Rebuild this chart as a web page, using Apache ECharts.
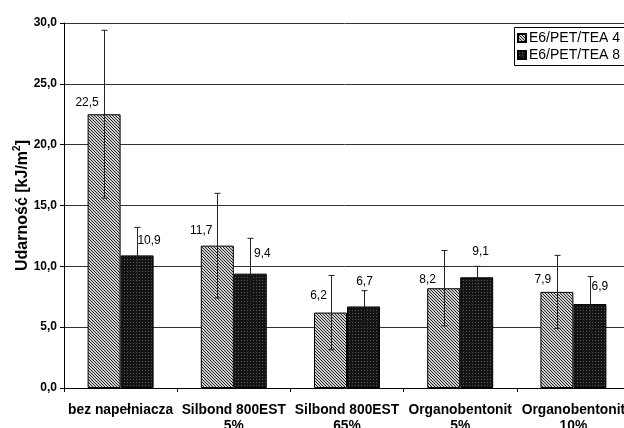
<!DOCTYPE html>
<html>
<head>
<meta charset="utf-8">
<script src="https://cdn.jsdelivr.net/npm/echarts@6/dist/echarts.min.js"></script>
<style>
html,body{margin:0;padding:0;background:#fff;}
#c{width:624px;height:428px;}
</style>
</head>
<body>
<div id="c"></div>
<script>
// ---- data ----
const categories = ['bez napełniacza', 'Silbond 800EST\n5%', 'Silbond 800EST\n65%', 'Organobentonit\n5%', 'Organobentonit\n10%'];
const seriesNames = ['E6/PET/TEA 4', 'E6/PET/TEA 8'];
const values4 = [22.5, 11.7, 6.2, 8.2, 7.9];
const values8 = [10.9, 9.4, 6.7, 9.1, 6.9];
const errors4 = [6.9, 4.3, 3.05, 3.1, 3.0];
const errors8 = [2.3, 2.9, 1.3, 0.9, 2.26];
const yTicks = { min: 0, max: 30, interval: 5 };

// ---- styles ----
const labelOffsets4 = [[-17, -6], [-16, -9], [-12, -11], [-16, -3], [-14, -6]];
const labelOffsets8 = [[12, -9], [12, -14], [1, -19], [4, -20], [10, -11]];
const FONT = '"Liberation Sans", Arial, sans-serif';
const BAR_W = 33;

function makePattern(bg, fg, size, pts) {
  const cv = document.createElement('canvas');
  cv.width = size; cv.height = size;
  const ctx = cv.getContext('2d');
  ctx.fillStyle = bg; ctx.fillRect(0, 0, size, size);
  ctx.fillStyle = fg;
  pts.forEach(p => ctx.fillRect(p[0], p[1], 1, 1));
  return { image: cv, repeat: 'repeat' };
}
const pat1 = makePattern('#d0d0d0', '#262626', 3, [[0,0],[1,1],[2,2]]);
const pat2 = makePattern('#141414', '#5a5a5a', 3, [[1,1]]);

const fmt = v => v.toFixed(1).replace('.', ',');

function barData(vals, offs) {
  return vals.map((v, i) => ({ value: v, label: { offset: offs[i] } }));
}

function errSeries(vals, errs, shift) {
  return {
    type: 'custom',
    z: 5,
    silent: true,
    data: vals.map((v, i) => [i, v, errs[i]]),
    renderItem: function (params, api) {
      const i = api.value(0), v = api.value(1), e = api.value(2);
      const top = api.coord([i, v + e]);
      const bot = api.coord([i, v - e]);
      const x = Math.round(top[0] + shift) + 0.5;
      const cap = 3;
      const st = { stroke: '#222', lineWidth: 1 };
      return {
        type: 'group',
        children: [
          { type: 'line', shape: { x1: x, y1: top[1], x2: x, y2: bot[1] }, style: st },
          { type: 'line', shape: { x1: x - cap, y1: top[1], x2: x + cap, y2: top[1] }, style: st },
          { type: 'line', shape: { x1: x - cap, y1: bot[1], x2: x + cap, y2: bot[1] }, style: st }
        ]
      };
    }
  };
}

const chart = echarts.init(document.getElementById('c'), null, { renderer: 'canvas' });
chart.setOption({
  backgroundColor: '#fff',
  animation: false,
  textStyle: { fontFamily: FONT },
  grid: { left: 64, top: 23, bottom: 40, width: 566, containLabel: false, outerBoundsMode: 'none' },
  graphic: [{
    type: 'rect',
    left: 514, top: 27,
    shape: { width: 130, height: 38 },
    style: { fill: '#fff', stroke: '#000', lineWidth: 1 },
    z: 0
  }],
  legend: {
    orient: 'vertical',
    left: 515,
    top: 28,
    data: seriesNames,
    icon: 'rect',
    itemWidth: 8,
    itemHeight: 8,
    itemGap: 3,
    padding: [3, 0, 2, 2],
    borderWidth: 0,
    z: 10,
    textStyle: { fontSize: 14, color: '#000', fontFamily: FONT, padding: [0, 0, 0, -2] }
  },
  xAxis: {
    type: 'category',
    data: categories,
    axisLine: { lineStyle: { color: '#000', width: 1 } },
    axisTick: { show: true, length: 4, lineStyle: { color: '#000' } },
    axisLabel: {
      interval: 0,
      fontSize: 13.8,
      fontWeight: 'bold',
      color: '#000',
      fontFamily: FONT,
      lineHeight: 16,
      margin: 14
    }
  },
  yAxis: {
    type: 'value',
    min: yTicks.min,
    max: yTicks.max,
    interval: yTicks.interval,
    name: '{a|Udarność [kJ/m}{s|2}{a|]}',
    nameLocation: 'middle',
    nameGap: 30,
    nameMoveOverlap: false,
    nameTextStyle: {
      rich: {
        a: { fontSize: 16, fontWeight: 'bold', color: '#000', fontFamily: FONT, lineHeight: 22 },
        s: { fontSize: 10, fontWeight: 'bold', color: '#000', fontFamily: FONT, verticalAlign: 'top', lineHeight: 22, padding: [0, 0, 6, 0] }
      }
    },
    axisLine: { show: true, lineStyle: { color: '#000', width: 1 } },
    axisTick: { show: true, length: 4, inside: false, lineStyle: { color: '#000' } },
    axisLabel: { formatter: v => fmt(v), fontSize: 12, fontWeight: 'bold', color: '#000', fontFamily: FONT, margin: 7 },
    splitLine: { show: true, lineStyle: { color: '#333', width: 1 } }
  },
  series: [
    {
      name: seriesNames[0],
      type: 'bar',
      barWidth: BAR_W,
      barGap: '0%',
      data: barData(values4, labelOffsets4),
      itemStyle: { color: pat1, borderColor: '#000', borderWidth: 1 },
      label: { show: true, position: 'top', distance: 0, lineHeight: 12, fontSize: 12, color: '#000', fontFamily: FONT, formatter: p => fmt(p.value) }
    },
    {
      name: seriesNames[1],
      type: 'bar',
      barWidth: BAR_W,
      barGap: '0%',
      data: barData(values8, labelOffsets8),
      itemStyle: { color: pat2, borderColor: '#000', borderWidth: 1 },
      label: { show: true, position: 'top', distance: 0, lineHeight: 12, fontSize: 12, color: '#000', fontFamily: FONT, formatter: p => fmt(p.value) }
    },
    errSeries(values4, errors4, -BAR_W / 2),
    errSeries(values8, errors8, BAR_W / 2)
  ]
});
</script>
</body>
</html>
